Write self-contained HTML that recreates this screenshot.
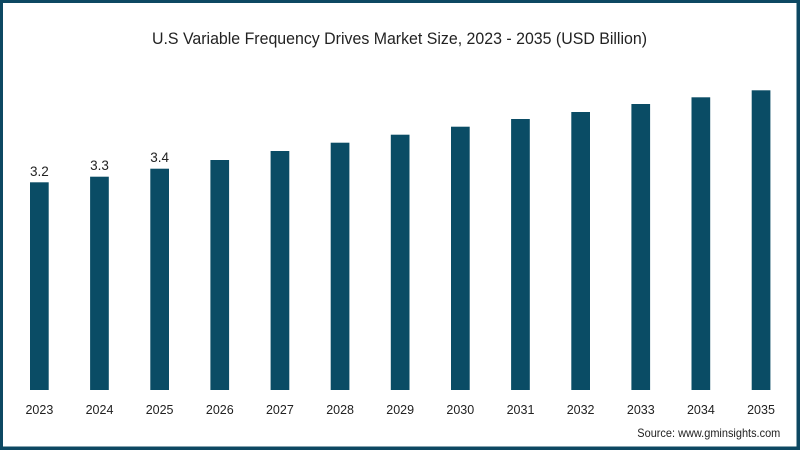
<!DOCTYPE html>
<html><head><meta charset="utf-8"><style>
html,body{margin:0;padding:0;background:#fff;}
svg{display:block;}
text{font-family:"Liberation Sans",sans-serif;fill:#222;}
</style></head><body>
<svg width="800" height="450" viewBox="0 0 800 450" xmlns="http://www.w3.org/2000/svg">
<rect x="0" y="0" width="800" height="450" fill="#0d4862"/>
<rect x="3" y="3" width="793.5" height="443.5" fill="#ffffff"/>
<text x="399.5" y="44" font-size="17" text-anchor="middle" textLength="495" lengthAdjust="spacingAndGlyphs">U.S Variable Frequency Drives Market Size, 2023 - 2035 (USD Billion)</text>
<g fill="#0a4c65">
<rect x="30" y="182.3" width="18.7" height="207.7"/>
<rect x="90.1" y="176.7" width="18.7" height="213.3"/>
<rect x="150.3" y="168.7" width="18.7" height="221.3"/>
<rect x="210.4" y="160" width="18.7" height="230"/>
<rect x="270.6" y="151" width="18.7" height="239"/>
<rect x="330.7" y="142.7" width="18.7" height="247.3"/>
<rect x="390.8" y="134.7" width="18.7" height="255.3"/>
<rect x="451" y="126.7" width="18.7" height="263.3"/>
<rect x="511.1" y="119" width="18.7" height="271"/>
<rect x="571.3" y="112" width="18.7" height="278"/>
<rect x="631.4" y="104" width="18.7" height="286"/>
<rect x="691.5" y="97.3" width="18.7" height="292.7"/>
<rect x="751.7" y="90.3" width="18.7" height="299.7"/>
</g>
<g font-size="13.5" text-anchor="middle">
<text x="39.4" y="176">3.2</text>
<text x="99.5" y="170">3.3</text>
<text x="159.6" y="162">3.4</text>
</g>
<g font-size="12.5" text-anchor="middle">
<text x="39.4" y="414">2023</text>
<text x="99.5" y="414">2024</text>
<text x="159.6" y="414">2025</text>
<text x="219.8" y="414">2026</text>
<text x="279.9" y="414">2027</text>
<text x="340.1" y="414">2028</text>
<text x="400.2" y="414">2029</text>
<text x="460.3" y="414">2030</text>
<text x="520.5" y="414">2031</text>
<text x="580.6" y="414">2032</text>
<text x="640.8" y="414">2033</text>
<text x="700.9" y="414">2034</text>
<text x="761" y="414">2035</text>
</g>
<text x="637.3" y="437" font-size="12" textLength="143" lengthAdjust="spacingAndGlyphs">Source: www.gminsights.com</text>
</svg>
</body></html>
